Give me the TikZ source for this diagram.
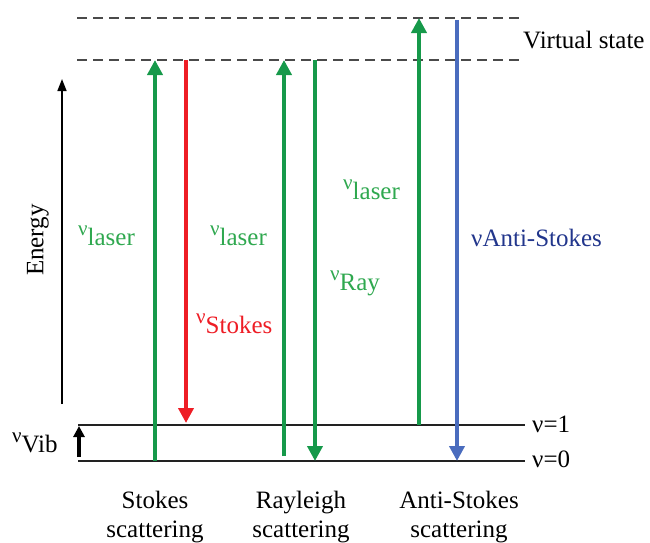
\documentclass[tikz,border=0pt]{standalone}
\usepackage{fontspec}
\setmainfont{Liberation Serif}
\usetikzlibrary{arrows.meta}

\definecolor{lasergreen}{HTML}{16994A}
\definecolor{labelgreen}{HTML}{2FA84F}
\definecolor{stokesred}{HTML}{EE1D25}
\definecolor{asblue}{HTML}{4A6CBE}
\definecolor{asnavy}{HTML}{22368C}
\definecolor{levelgray}{HTML}{222222}
\definecolor{virtgray}{HTML}{4A4A4A}

% small raised frequency symbol followed by its index
\newcommand{\freqsym}[1]{\raisebox{10pt}{\fontsize{21}{21}\selectfont ν}#1}

\begin{document}
\begin{tikzpicture}[x=1pt,y=-1pt,
  level/.style={line width=1.8pt, draw=levelgray},
  virtual/.style={line width=1.8pt, draw=virtgray, dash pattern=on 10pt off 6pt},
  photon/.style={line width=4.5pt, -{Triangle[width=15pt,length=15pt]}},
  txt/.style={font=\fontsize{25}{29}\selectfont, inner sep=0pt},
  procname/.style={txt, align=center}
]
\useasboundingbox (0,0) rectangle (650,542);

% energy levels
\coordinate (vA) at (77,18);   \coordinate (vB) at (525,18);
\coordinate (wA) at (77,60);   \coordinate (wB) at (525,60);
\coordinate (oneA) at (78,425); \coordinate (oneB) at (525,425);
\coordinate (zeroA) at (78,461); \coordinate (zeroB) at (525,461);
\draw[virtual] (vA) -- (vB);
\draw[virtual] (wA) -- (wB);
\draw[level] (oneA) -- (oneB);
\draw[level] (zeroA) -- (zeroB);

% energy axis
\coordinate (eLow) at (62,404);
\coordinate (eHigh) at (62,79);
\draw[line width=1.6pt, -{Triangle[width=9pt,length=12pt]}] (eLow) -- (eHigh);
\node[txt, rotate=90] (energy) at (38,240) {Energy};

% vibrational spacing
\coordinate (vibLow) at (79,457);
\coordinate (vibHigh) at (79,426);
\draw[line width=3.5pt, -{Triangle[width=11pt,length=11pt]}] (vibLow) -- (vibHigh);
\node[txt, anchor=base west] (vib) at (12,452) {\freqsym{Vib}};

% Stokes scattering
\coordinate (sUpA) at (155,461); \coordinate (sUpB) at (155,60);
\coordinate (sDnA) at (186,60);  \coordinate (sDnB) at (186,423);
\draw[photon, lasergreen] (sUpA) -- (sUpB);
\draw[photon, stokesred] (sDnA) -- (sDnB);

% Rayleigh scattering
\coordinate (rUpA) at (284,456); \coordinate (rUpB) at (284,60);
\coordinate (rDnA) at (315,60);  \coordinate (rDnB) at (315,461);
\draw[photon, lasergreen] (rUpA) -- (rUpB);
\draw[photon, lasergreen] (rDnA) -- (rDnB);

% anti-Stokes scattering
\coordinate (aUpA) at (419,425); \coordinate (aUpB) at (419,18);
\coordinate (aDnA) at (457,20);  \coordinate (aDnB) at (457,461);
\draw[photon, lasergreen] (aUpA) -- (aUpB);
\draw[photon, asblue] (aDnA) -- (aDnB);

% photon labels
\node[txt, text=labelgreen, anchor=base west] (l1) at (78,245) {\freqsym{laser}};
\node[txt, text=labelgreen, anchor=base west] (l2) at (210,245) {\freqsym{laser}};
\node[txt, text=labelgreen, anchor=base west] (l3) at (343,199) {\freqsym{laser}};
\node[txt, text=labelgreen, anchor=base west] (ray) at (330,290) {\freqsym{Ray}};
\node[txt, text=stokesred, anchor=base west] (sto) at (196,333) {\freqsym{Stokes}};
\node[txt, text=asnavy, anchor=base west] (ast) at (471,246) {νAnti-Stokes};

% level labels
\node[txt, anchor=base west] (n1) at (532,432) {ν=1};
\node[txt, anchor=base west] (n0) at (532,467) {ν=0};
\node[txt, anchor=base west] (virt) at (523,48) {Virtual state};

% process captions
\node[procname, anchor=north] (c1) at (155,491) {Stokes\\scattering};
\node[procname, anchor=north] (c2) at (301,491) {Rayleigh\\scattering};
\node[procname, anchor=north] (c3) at (459,491) {Anti-Stokes\\scattering};
\end{tikzpicture}
\end{document}
